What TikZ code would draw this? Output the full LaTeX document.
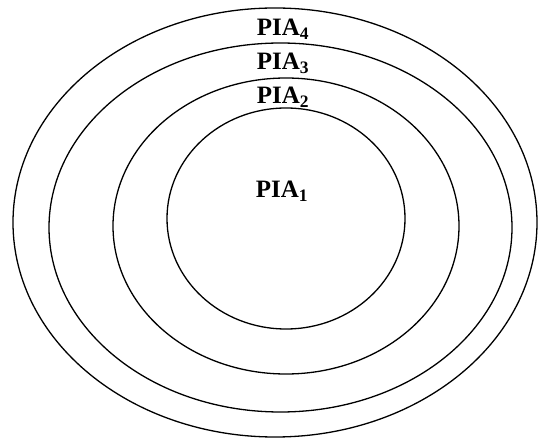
\documentclass[tikz,border=0pt]{standalone}
\usepackage{fontspec}
\setmainfont{Liberation Serif}
\usepackage{tikz}

\begin{document}
\begin{tikzpicture}[x=1pt, y=-1pt, line width=1.3pt, every node/.style={font=\fontsize{25}{28}\selectfont\bfseries, inner sep=0pt}]
\useasboundingbox (0,0) rectangle (538,438);
% nested rings, outer to inner
\draw (275,222.5) ellipse [x radius=262, y radius=214.5];
\draw (280.5,227.5) ellipse [x radius=231.5, y radius=184.5];
\draw (286,226) ellipse [x radius=173, y radius=148];
\draw (286,218.5) ellipse [x radius=119, y radius=110.5];
% labels
\node (pia4) at (283,29) {PIA\textsubscript{4}};
\node (pia3) at (283,63) {PIA\textsubscript{3}};
\node (pia2) at (283,97) {PIA\textsubscript{2}};
\node (pia1) at (282,191) {PIA\textsubscript{1}};
\end{tikzpicture}
\end{document}
